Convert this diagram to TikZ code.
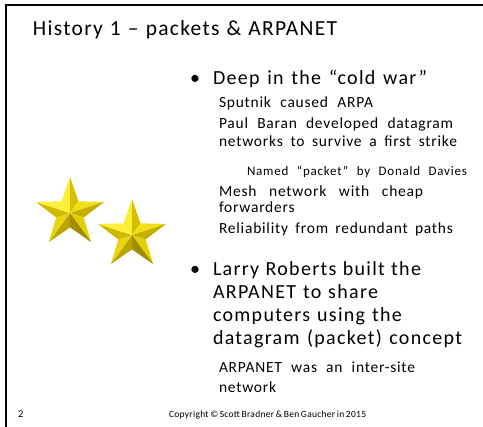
\documentclass[tikz,border=0pt]{standalone}
\usepackage{fontspec}
\setmainfont{Carlito}
\newfontfamily\ttlfont[LetterSpace=6]{Carlito}
\newfontfamily\lonefont[LetterSpace=6.5]{Carlito}
\newfontfamily\ltwofont[LetterSpace=5]{Carlito}
\newfontfamily\lthreefont[LetterSpace=6]{Carlito}
\newfontfamily\footfont[LetterSpace=3]{Carlito}
\newcommand{\fitw}[2]{\makebox[#1pt][s]{#2}}
\begin{document}
\begin{tikzpicture}[x=1pt,y=-1pt,
  txt/.style={anchor=base west,inner sep=0pt,outer sep=0pt,text=black},
  ttl/.style={txt,font=\ttlfont\fontsize{21.5}{21.5}\selectfont},
  lone/.style={txt,font=\lonefont\fontsize{20}{20}\selectfont},
  blt/.style={txt,font=\fontsize{20}{20}\selectfont},
  ltwo/.style={txt,font=\ltwofont\fontsize{15.5}{15.5}\selectfont},
  lthree/.style={txt,font=\lthreefont\fontsize{13}{13}\selectfont},
  foot/.style={txt,font=\footfont\fontsize{9.5}{9.5}\selectfont},
  frame/.style={line width=2pt,black}]
\useasboundingbox (0,0) rectangle (483,427);
% frame lines
\coordinate (c0) at (6,5);
\coordinate (ctop) at (483,5);
\coordinate (cbot) at (6,427);
\draw[frame] (ctop) -- (c0) -- (cbot);
% stars
\newcommand{\mystar}[3]{%
  \begin{scope}[shift={(#1,#2)}]
    \def\R{#3}\pgfmathsetmacro{\r}{0.4*#3}
    \fill[fill={rgb,255:red,255;green,238;blue,48}] (0,0) -- (90:\R) -- (126:\r) -- cycle;
    \fill[fill={rgb,255:red,214;green,190;blue,0}] (0,0) -- (90:\R) -- (54:\r) -- cycle;
    \fill[fill={rgb,255:red,240;green,224;blue,24}] (0,0) -- (18:\R) -- (54:\r) -- cycle;
    \fill[fill={rgb,255:red,196;green,174;blue,0}] (0,0) -- (18:\R) -- (-18:\r) -- cycle;
    \fill[fill={rgb,255:red,228;green,208;blue,0}] (0,0) -- (-54:\R) -- (-18:\r) -- cycle;
    \fill[fill={rgb,255:red,160;green,140;blue,0}] (0,0) -- (-54:\R) -- (-90:\r) -- cycle;
    \fill[fill={rgb,255:red,186;green,164;blue,0}] (0,0) -- (-126:\R) -- (-90:\r) -- cycle;
    \fill[fill={rgb,255:red,232;green,212;blue,16}] (0,0) -- (-126:\R) -- (-162:\r) -- cycle;
    \fill[fill={rgb,255:red,206;green,184;blue,0}] (0,0) -- (162:\R) -- (-162:\r) -- cycle;
    \fill[fill={rgb,255:red,255;green,240;blue,60}] (0,0) -- (162:\R) -- (126:\r) -- cycle;
  \end{scope}}
\begin{scope}[y=1pt]
\mystar{70}{-213}{36}
\mystar{132}{-235}{36}
\end{scope}
% title
\node[ttl] (title) at (33,36) {\fitw{304}{History 1 – packets \& ARPANET}};
% bullet 1
\node[blt] (b1) at (190,85) {•};
\node[lone] (t1) at (213,85) {\fitw{214}{Deep in the “cold war”}};
\node[ltwo] (s1) at (219,108) {\fitw{154}{Sputnik caused ARPA}};
\node[ltwo] (s2) at (219,129) {\fitw{234}{Paul Baran developed datagram}};
\node[ltwo] (s3) at (219,147) {\fitw{238}{networks to survive a first strike}};
\node[lthree] (s4) at (247,176) {\fitw{220}{Named “packet” by Donald Davies}};
\node[ltwo] (s5) at (219,197) {\fitw{204}{Mesh network with cheap}};
\node[ltwo] (s6) at (219,213) {forwarders};
\node[ltwo] (s7) at (219,234) {\fitw{234}{Reliability from redundant paths}};
% bullet 2
\node[blt] (b2) at (190,276) {•};
\node[lone] (t2) at (213,276) {\fitw{208}{Larry Roberts built the}};
\node[lone] (t3) at (213,299) {\fitw{165}{ARPANET to share}};
\node[lone] (t4) at (213,322) {\fitw{189}{computers using the}};
\node[lone] (t5) at (213,345) {\fitw{249}{datagram (packet) concept}};
\node[ltwo] (s8) at (219,373) {\fitw{196}{ARPANET was an inter-site}};
\node[ltwo] (s9) at (219,393) {network};
% footer
\node[txt,font=\fontsize{10.5}{10.5}\selectfont] (pg) at (18,418) {2};
\node[foot] (copy) at (169,418) {\fitw{193}{Copyright © Scott Bradner \& Ben Gaucher in 2015}};
\end{tikzpicture}
\end{document}
